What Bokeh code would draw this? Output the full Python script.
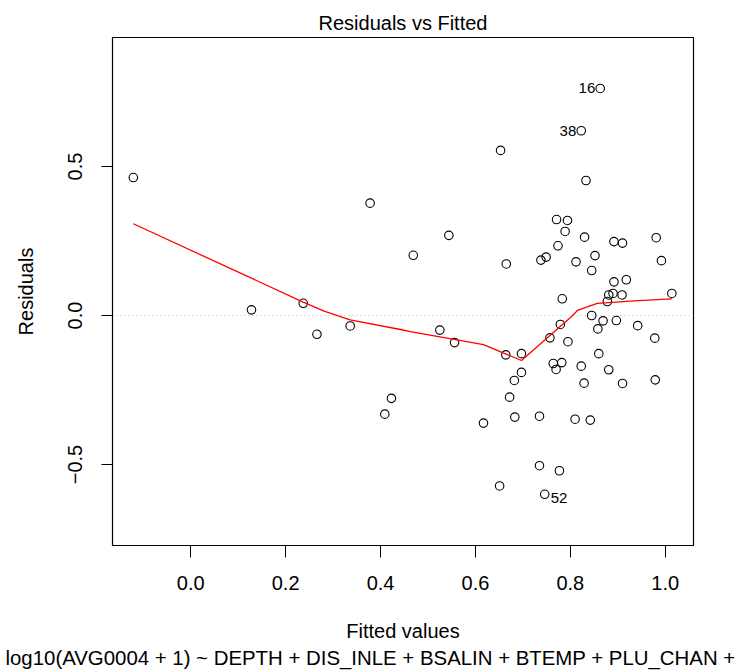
from bokeh.plotting import figure
from bokeh.models import Range1d, FixedTicker, Span, Title
from bokeh.core.properties import value
from bokeh.embed import file_html
from bokeh.resources import INLINE

# ---- data ----
fitted = [-0.121, 0.128, 0.237, 0.266, 0.336, 0.378, 0.409, 0.423, 0.469, 0.525,
          0.544, 0.556, 0.617, 0.651, 0.653, 0.665, 0.664, 0.672, 0.682, 0.683,
          0.697, 0.697, 0.735, 0.735, 0.738, 0.746, 0.749, 0.757, 0.764, 0.770,
          0.771, 0.774, 0.777, 0.779, 0.782, 0.783, 0.789, 0.794, 0.795, 0.810,
          0.812, 0.823, 0.823, 0.829, 0.830, 0.833, 0.842, 0.845, 0.845, 0.852,
          0.858, 0.860, 0.863, 0.869, 0.878, 0.881, 0.881, 0.890, 0.892, 0.892,
          0.897, 0.909, 0.910, 0.910, 0.918, 0.942, 0.978, 0.979, 0.981, 0.992, 1.014]
residuals = [0.463, 0.019, 0.041, -0.063, -0.035, 0.377, -0.331, -0.278, 0.202, -0.049,
             0.269, -0.091, -0.361, -0.572, 0.554, 0.173, -0.132, -0.274, -0.218, -0.341,
             -0.128, -0.191, -0.338, -0.504, 0.186, -0.600, 0.196, -0.075, -0.161, -0.181,
             0.322, 0.234, -0.521, -0.030, -0.158, 0.056, 0.282, 0.319, -0.088, -0.348,
             0.180, 0.620, -0.170, -0.227, 0.263, 0.453, -0.351, 0.151, 0.000, 0.201,
             -0.045, -0.128, 0.762, -0.018, 0.047, 0.069, -0.182, 0.074, 0.248, 0.113,
             -0.017, 0.069, 0.243, -0.228, 0.120, -0.034, -0.076, -0.216, 0.261, 0.184, 0.074]

smooth_x = [-0.121, 0.237, 0.281, 0.336, 0.442, 0.463, 0.617, 0.697, 0.757, 0.801, 0.815, 0.857, 0.934, 1.014]
smooth_y = [0.308, 0.045, 0.015, -0.015, -0.047, -0.054, -0.098, -0.151, -0.067, -0.006, 0.017, 0.041, 0.049, 0.056]

# labelled observations: index into the arrays, and their names
left_ids = [52, 41]
left_names = ["16", "38"]
right_ids = [25]
right_names = ["52"]

x_ticks = [0.0, 0.2, 0.4, 0.6, 0.8, 1.0]
x_tick_labels = ["0.0", "0.2", "0.4", "0.6", "0.8", "1.0"]
y_ticks = [-0.5, 0.0, 0.5]
y_tick_labels = ["\u22120.5", "0.0", "0.5"]

title_text = "Residuals vs Fitted"
x_title = "Fitted values"
y_title = "Residuals"
formula_text = "log10(AVG0004 + 1) ~ DEPTH + DIS_INLE + BSALIN + BTEMP + PLU_CHAN +"

FONT = "Liberation Sans"

p = figure(width=739, height=671,
           x_range=Range1d(-0.1649, 1.0596), y_range=Range1d(-0.7718, 0.9329),
           output_backend="svg", toolbar_location=None,
           min_border_left=112, min_border_right=46,
           min_border_top=37, min_border_bottom=126)
p.grid.visible = False
p.outline_line_color = "black"
p.outline_line_width = 1.2
p.background_fill_color = "white"
p.border_fill_color = "white"

# title
p.title = Title(text=title_text, align="center", vertical_align="bottom",
                text_font=FONT, text_font_size="20px", text_font_style="normal",
                text_color="black", standoff=7)

# x axis
xa = p.xaxis[0]
xa.ticker = FixedTicker(ticks=x_ticks)
xa.major_label_overrides = {t: l for t, l in zip(x_ticks, x_tick_labels)}
xa.major_tick_out = 12
xa.major_tick_in = 0
xa.minor_tick_out = 0
xa.minor_tick_in = 0
xa.major_tick_line_color = "black"
xa.axis_line_color = "black"
xa.major_label_text_font = FONT
xa.major_label_text_font_size = "20px"
xa.major_label_text_color = "black"
xa.major_label_standoff = 18
xa.axis_label = x_title
xa.axis_label_text_font = FONT
xa.axis_label_text_font_size = "20px"
xa.axis_label_text_font_style = "normal"
xa.axis_label_text_color = "black"
xa.axis_label_standoff = 27

# y axis
ya = p.yaxis[0]
ya.ticker = FixedTicker(ticks=y_ticks)
ya.major_label_overrides = {t: l for t, l in zip(y_ticks, y_tick_labels)}
ya.major_label_orientation = "vertical"
ya.major_tick_out = 11
ya.major_tick_in = 0
ya.minor_tick_out = 0
ya.minor_tick_in = 0
ya.major_tick_line_color = "black"
ya.axis_line_color = "black"
ya.major_label_text_font = FONT
ya.major_label_text_font_size = "20px"
ya.major_label_text_color = "black"
ya.major_label_standoff = 19
ya.axis_label = y_title
ya.axis_label_text_font = FONT
ya.axis_label_text_font_size = "20px"
ya.axis_label_text_font_style = "normal"
ya.axis_label_text_color = "black"
ya.axis_label_standoff = 29

# formula caption below the x axis title
p.add_layout(Title(text=formula_text, align="left", vertical_align="bottom",
                   text_font=FONT, text_font_size="20.4px", text_font_style="normal",
                   text_color="black", standoff=0, offset=-107), "below")

# zero reference line
p.add_layout(Span(location=0, dimension="width", line_color="#BEBEBE",
                  line_dash="1 3", line_width=1.2, level="underlay"))

# points
p.scatter(fitted, residuals, marker="circle", size=8.5, fill_color=None,
          line_color="black", line_width=1.1)

# smoother
p.line(smooth_x, smooth_y, line_color="red", line_width=1.3)

# point labels
p.text(x=[fitted[i] for i in left_ids], y=[residuals[i] for i in left_ids], text=left_names,
       text_font=value(FONT), text_font_size="15px", text_color="black",
       text_align="right", text_baseline="middle", x_offset=-5, y_offset=0)
p.text(x=[fitted[i] for i in right_ids], y=[residuals[i] for i in right_ids], text=right_names,
       text_font=value(FONT), text_font_size="15px", text_color="black",
       text_align="left", text_baseline="middle", x_offset=6, y_offset=4)

open("out.html", "w").write(file_html(p, INLINE))
